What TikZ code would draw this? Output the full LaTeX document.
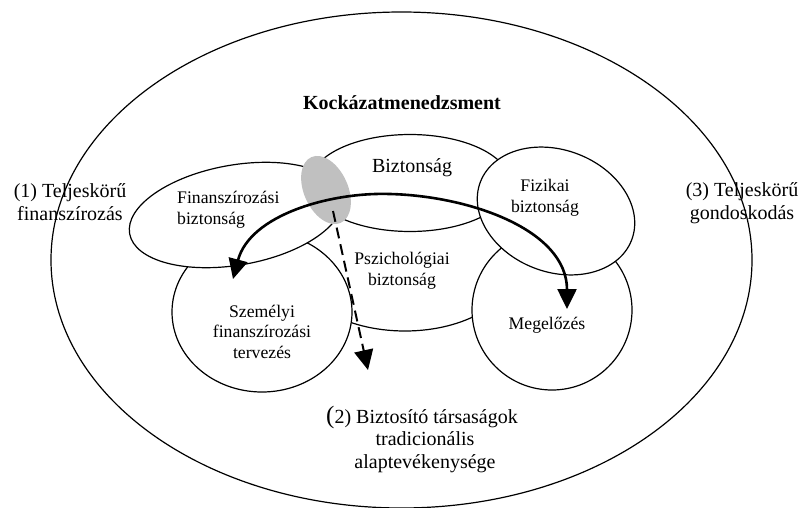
\documentclass[tikz,border=0pt]{standalone}
\usepackage{fontspec}
\setmainfont{Liberation Serif}
\usetikzlibrary{shapes.geometric,arrows.meta}
\tikzset{
  blob/.style={ellipse, draw, fill=white, line width=1.2pt, inner sep=0pt},
  lbl/.style={font=\fontsize{17.7}{20.5}\selectfont, align=center, inner sep=0pt, anchor=base},
  biglbl/.style={font=\fontsize{20}{23}\selectfont, align=center, inner sep=0pt, anchor=base},
  tipL/.tip={Triangle[length=20pt,width=19pt]},
}
\begin{document}
\begin{tikzpicture}[x=1pt,y=-1pt]
\useasboundingbox (0,0) rectangle (800,508);
% outer
\node[ellipse, draw, line width=1.2pt, inner sep=0pt, minimum width=701pt, minimum height=496pt] (outer) at (401.5,260) {};
% inner shapes
\node[blob, minimum width=220pt, minimum height=132pt] (psz) at (405,265) {};
\node[blob, minimum width=180pt, minimum height=160pt] (szem) at (262,312) {};
\node[blob, minimum width=160pt, minimum height=160pt] (meg) at (552,310) {};
\node[blob, minimum width=216pt, minimum height=100pt, rotate=10] (fin) at (236,215) {};
\node[blob, minimum width=200pt, minimum height=97pt] (bizt) at (410,183) {};
\node[blob, minimum width=162pt, minimum height=122pt, rotate=-21] (fiz) at (556,211) {};
\node[ellipse, fill={rgb,255:red,192;green,192;blue,192}, draw=none, inner sep=0pt, minimum width=44pt, minimum height=72pt, rotate=24] (grey) at (326,190) {};
% arrows
\coordinate (aL) at (233,279);
\coordinate (aTop) at (390,194);
\coordinate (aR) at (567,309);
\draw[line width=2.6pt, {tipL}-{tipL}] (aL) .. controls (250,215) and (330,192) .. (aTop)
   .. controls (470,196) and (567,230) .. (aR);
\coordinate (dS) at (333,211);
\coordinate (dE) at (368,370);
\draw[line width=2pt, dash pattern=on 11pt off 6pt, -{Triangle[length=20pt,width=19pt]}] (dS) -- (dE);
% texts
\node[font=\fontsize{20}{23}\selectfont\bfseries, inner sep=0pt, anchor=base] (title) at (402,110) {Kockázatmenedzsment};
\node[biglbl] (t1) at (70,220) {(1) Teljeskörű\\finanszírozás};
\node[biglbl] (t3) at (742,219) {(3) Teljeskörű\\gondoskodás};
\node[biglbl, font=\fontsize{20}{22.5}\selectfont] (t2) at (425,468) {{\fontsize{25}{22}\selectfont(}2) Biztosító társaságok\hspace*{6pt}\\tradicionális\\alaptevékenysége};
\node[biglbl] (lbizt) at (412,172) {Biztonság};
\node[lbl, align=left, anchor=base west] (lfin) at (177,224) {Finanszírozási\\biztonság};
\node[lbl] (lfiz) at (545,212) {Fizikai\\biztonság};
\node[lbl] (lpsz) at (402,285) {Pszichológiai\\biztonság};
\node[lbl] (lszem) at (262,358) {Személyi\\finanszírozási\\tervezés};
\node[lbl] (lmeg) at (547,329) {Megelőzés};
\end{tikzpicture}
\end{document}
